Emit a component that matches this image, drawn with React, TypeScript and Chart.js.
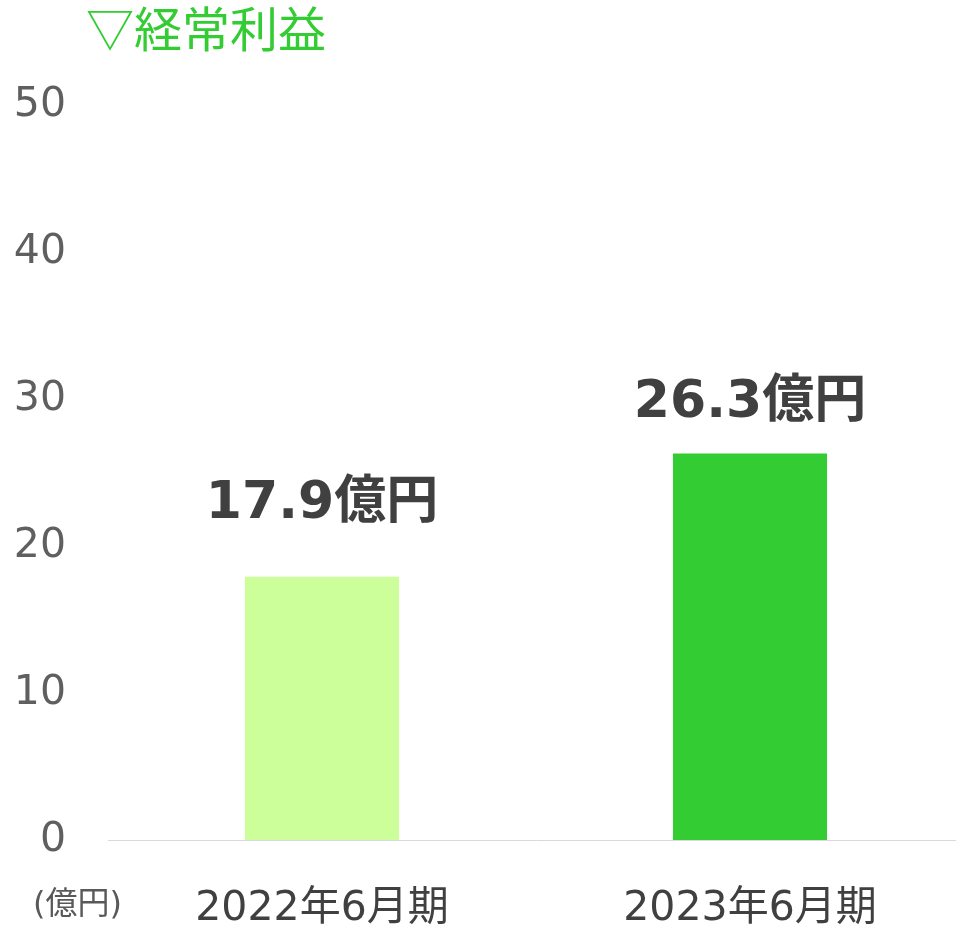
import React, { useEffect, useRef } from "react";
import { Chart, registerables } from "chart.js";

Chart.register(...registerables);

const categories = ["2022年6月期", "2023年6月期"];
const values = [17.9, 26.3];
const valueLabels = ["17.9億円", "26.3億円"];
const barColors = ["#ccff99", "#33cc33"];
const labelOffsets = [72, 50];
const yTicks = [0, 10, 20, 30, 40, 50];
const titleText = "▽経常利益";
const unitText = "(億円)";

const CJK = "'Noto Sans CJK JP', 'Noto Sans', sans-serif";
const MIX = "'DejaVu Sans', 'Noto Sans CJK JP', sans-serif";

export default function App() {
  const ref = useRef<HTMLCanvasElement | null>(null);

  useEffect(() => {
    if (!ref.current) return;
    document.body.style.overflow = "hidden";
    const overlay = {
      id: "overlay",
      afterDatasetsDraw(chart: any) {
        const ctx = chart.ctx;
        const meta = chart.getDatasetMeta(0);
        ctx.save();
        ctx.fillStyle = "#404040";
        ctx.font = `bold 52px ${MIX}`;
        ctx.textAlign = "center";
        ctx.textBaseline = "middle";
        meta.data.forEach((el: any, i: number) => {
          ctx.fillText(valueLabels[i], el.x, el.y - labelOffsets[i]);
        });
        ctx.restore();
      },
      afterDraw(chart: any) {
        const ctx = chart.ctx;
        ctx.save();
        ctx.textAlign = "left";
        ctx.textBaseline = "middle";
        ctx.fillStyle = "#33cc33";
        ctx.font = `48px ${CJK}`;
        ctx.fillText(titleText, 86, 29);
        ctx.fillStyle = "#595959";
        ctx.font = `32px ${MIX}`;
        ctx.fillText(unitText, 33, 906);
        ctx.restore();
      },
    };
    const chart = new Chart(ref.current, {
      type: "bar",
      data: {
        labels: categories,
        datasets: [
          {
            data: values,
            backgroundColor: barColors,
            barPercentage: 0.36,
            categoryPercentage: 1,
          },
        ],
      },
      options: {
        responsive: false,
        animation: false,
        layout: { padding: { top: 105, right: 6, left: 0, bottom: 0 } },
        plugins: {
          legend: { display: false },
          tooltip: { enabled: false },
          title: { display: false },
        },
        scales: {
          x: {
            grid: { display: false, drawTicks: false },
            border: { display: true, color: "#d9d9d9", width: 1 },
            ticks: {
              color: "#404040",
              font: { family: MIX, size: 41 },
              padding: 45,
            },
            afterFit(scale: any) {
              scale.height = 89;
            },
          },
          y: {
            min: 0,
            max: 50,
            afterBuildTicks(scale: any) {
              scale.ticks = yTicks.map((v) => ({ value: v }));
            },
            grid: { display: false, drawTicks: false },
            border: { display: false },
            ticks: {
              color: "#5f5f5f",
              font: { family: MIX, size: 41 },
              padding: 42,
            },
            afterFit(scale: any) {
              scale.width = 108;
            },
          },
        },
      },
      plugins: [overlay],
    });
    return () => chart.destroy();
  }, []);

  return (
    <div
      style={{
        position: "fixed",
        left: 0,
        top: 0,
        width: 956,
        height: 929,
        overflow: "hidden",
        background: "#ffffff",
      }}
    >
      <canvas ref={ref} width={970} height={929} style={{ display: "block" }} />
    </div>
  );
}
